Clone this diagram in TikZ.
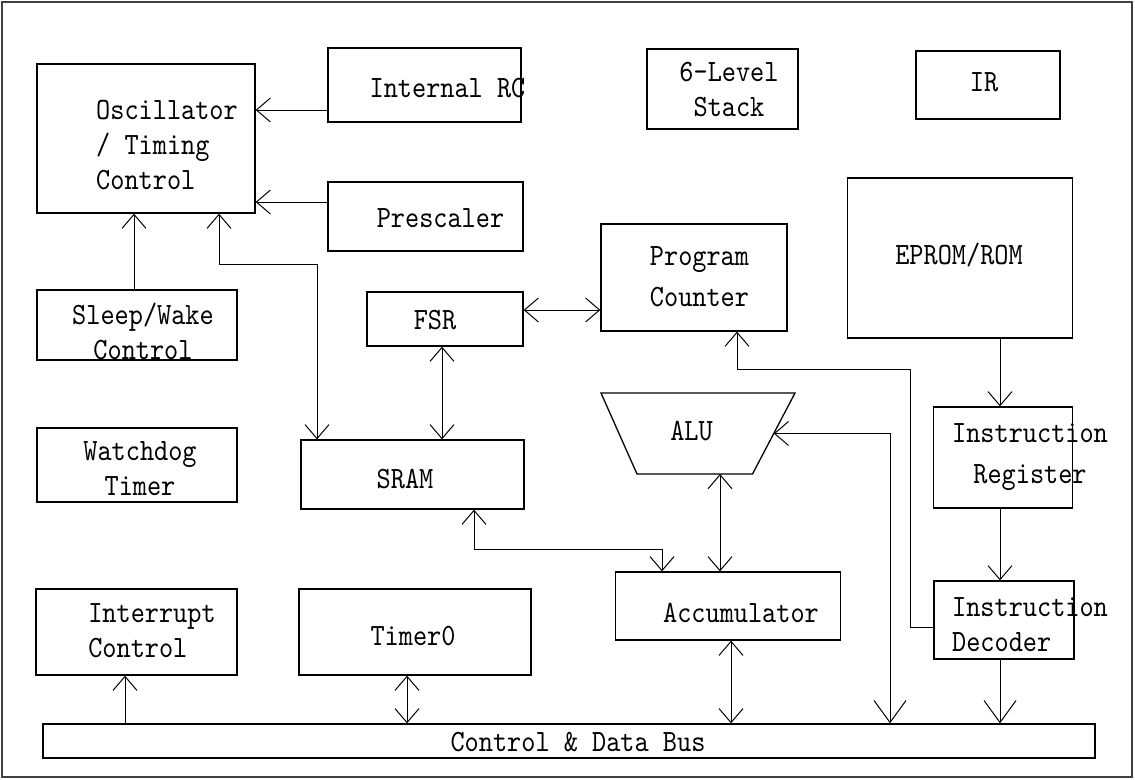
\documentclass[tikz,border=0pt]{standalone}
\usepackage{fontspec}
\newfontfamily\lmmono{lmmono10-regular.otf}[FakeStretch=0.87]
\usetikzlibrary{arrows.meta, calc}

\tikzset{
  blk/.style={draw, line width=1.3pt, inner sep=0pt},
  lbl/.style={inner sep=0pt, font=\lmmono\fontsize{31}{35}\selectfont},
  wire/.style={line width=1pt},
  >={Straight Barb[length=14pt,width=24pt]},
  Big/.tip={Straight Barb[length=22pt,width=32pt]},
}

\begin{document}
\begin{tikzpicture}[x=1pt, y=-1pt]
\useasboundingbox (0,0) rectangle (1135,779);
\draw[line width=1.6pt, black!75] (2,2) rectangle (1132,777);

% blocks
\node[blk, minimum width=218, minimum height=149] (osc) at (146,138.5) {};
\node[blk, minimum width=193, minimum height=74] (irc) at (424.5,85) {};
\node[blk, minimum width=195, minimum height=69] (pre) at (425.5,216.5) {};
\node[blk, minimum width=200, minimum height=70] (sleep) at (137,325) {};
\node[blk, minimum width=200, minimum height=74] (wdt) at (137,465) {};
\node[blk, minimum width=201, minimum height=86] (intc) at (136.5,632) {};
\node[blk, minimum width=232, minimum height=86] (tmr) at (415,632) {};
\node[blk, minimum width=223, minimum height=69] (sram) at (412.5,474.5) {};
\node[blk, minimum width=156, minimum height=54] (fsr) at (445,319) {};
\node[blk, minimum width=151, minimum height=80] (stack) at (722.5,89) {};
\node[blk, minimum width=144, minimum height=68] (ir) at (988,85) {};
\node[blk, minimum width=225, minimum height=160] (rom) at (960,258) {};
\node[blk, minimum width=186, minimum height=107] (pc) at (694,277.5) {};
\node[blk, minimum width=225, minimum height=68] (acc) at (728,606) {};
\node[blk, minimum width=139, minimum height=101] (ireg) at (1003,457.5) {};
\node[blk, minimum width=140, minimum height=78] (idec) at (1004,620) {};
\node[blk, minimum width=1052, minimum height=34] (bus) at (569,741) {};

% ALU
\coordinate (alu-nw) at (601,393);
\coordinate (alu-ne) at (795,393);
\coordinate (alu-se) at (752.5,474);
\coordinate (alu-sw) at (637,474);
\draw[line width=1.3pt] (alu-nw) -- (alu-ne) -- (alu-se) -- (alu-sw) -- cycle;
\coordinate (alu-e) at ($(alu-ne)!0.5!(alu-se)$);

% labels
\node[lbl, align=left] (osc-t) at (167,145) {Oscillator\\/ Timing\\Control};
\node[lbl] (irc-t) at (447.5,88) {Internal RC};
\node[lbl] (pre-t) at (440.5,218) {Prescaler};
\node[lbl, align=center] (sleep-t) at (143,331) {Sleep/Wake\\Control};
\node[lbl, align=center] (wdt-t) at (140,469) {Watchdog\\Timer};
\node[lbl, align=left] (intc-t) at (152,630.5) {Interrupt\\Control};
\node[lbl] (tmr-t) at (413,636) {Timer0};
\node[lbl] (sram-t) at (405,479) {SRAM};
\node[lbl] (fsr-t) at (435,320) {FSR};
\node[lbl, align=center] (stack-t) at (729,89.5) {6-Level\\Stack};
\node[lbl] (ir-t) at (984,82) {IR};
\node[lbl] (rom-t) at (959,255) {EPROM/ROM};
\node[lbl, align=center] (pc-t) at (699.5,276.5) {Program\\[6pt]Counter};
\node[lbl] (alu-t) at (691.5,431) {ALU};
\node[lbl] (acc-t) at (741,613) {Accumulator};
\node[lbl, align=center] (ireg-t) at (1030,457.5) {Instruction\\[6pt]Register};
\node[lbl, align=left] (idec-t) at (1030,625) {Instruction\\Decoder};
\node[lbl] (bus-t) at (578,742) {Control \& Data Bus};

% connections
\draw[wire, ->] (irc.west |- 0,110) -- (osc.east |- 0,110);
\draw[wire, ->] (pre.west |- 0,202) -- (osc.east |- 0,202);
\draw[wire, ->] (sleep.north -| 134,0) -- (osc.south -| 134,0);
\draw[wire, <->] (osc.south -| 219,0) |- (317,264) -- (sram.north -| 317,0);
\draw[wire, <->] (fsr.east |- 0,310) -- (pc.west |- 0,310);
\draw[wire, <->] (fsr.south -| 442,0) -- (sram.north -| 442,0);
\draw[wire, <->] (sram.south -| 474,0) |- (662,549) -- (acc.north -| 662,0);
\draw[wire, <->] (alu-sw -| 720,0) -- (acc.north -| 720,0);
\draw[wire, Big->] (bus.north -| 890,0) |- (alu-e);
\draw[wire, <->] (acc.south -| 731,0) -- (bus.north -| 731,0);
\draw[wire, ->] (rom.south -| 1000,0) -- (ireg.north -| 1000,0);
\draw[wire, ->] (ireg.south -| 1000,0) -- (idec.north -| 1000,0);
\draw[wire, -Big] (idec.south -| 1000,0) -- (bus.north -| 1000,0);
\draw[wire, ->] (idec.west |- 0,627) -| (910,369) -| (pc.south -| 737,0);
\draw[wire, ->] (bus.north -| 125,0) -- (intc.south -| 125,0);
\draw[wire, <->] (tmr.south -| 407,0) -- (bus.north -| 407,0);
\end{tikzpicture}
\end{document}
